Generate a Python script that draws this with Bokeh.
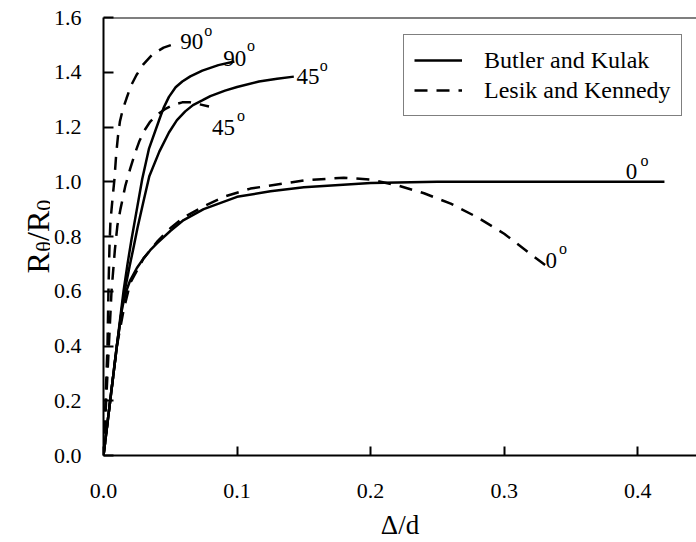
import math
from bokeh.plotting import figure
from bokeh.layouts import row
from bokeh.models import (Range1d, FixedTicker, PrintfTickFormatter, Span,
                          Legend, LegendItem)
from bokeh.core.properties import value
from bokeh.embed import file_html
from bokeh.resources import INLINE

FONT = "Liberation Serif"

# ---------------- data ----------------
x_ticks = [0.0, 0.1, 0.2, 0.3, 0.4]
y_ticks = [0.0, 0.2, 0.4, 0.6, 0.8, 1.0, 1.2, 1.4, 1.6]

# Butler and Kulak (solid)
bk0_x = [0, 0.005, 0.01, 0.014, 0.017, 0.02, 0.025, 0.03, 0.035, 0.04, 0.05, 0.06, 0.075, 0.1, 0.125, 0.15, 0.2, 0.25, 0.3, 0.35, 0.42]
bk0_y = [0, 0.2, 0.4, 0.54, 0.60, 0.64, 0.685, 0.72, 0.75, 0.775, 0.82, 0.86, 0.90, 0.945, 0.965, 0.98, 0.995, 1.0, 1.0, 1.0, 1.0]
bk45_x = [0, 0.005, 0.01, 0.015, 0.0195, 0.0225, 0.0254, 0.03, 0.0343, 0.0418, 0.049, 0.055, 0.0612, 0.067, 0.0739, 0.08, 0.091, 0.1, 0.1164, 0.13, 0.1425]
bk45_y = [0, 0.2, 0.4, 0.58, 0.69, 0.76, 0.83, 0.93, 1.02, 1.11, 1.18, 1.225, 1.257, 1.28, 1.297, 1.313, 1.333, 1.346, 1.366, 1.376, 1.384]
bk90_x = [0, 0.005, 0.01, 0.015, 0.018, 0.021, 0.025, 0.029, 0.034, 0.042, 0.045, 0.049, 0.054, 0.059, 0.065, 0.074, 0.086, 0.098]
bk90_y = [0, 0.2, 0.4, 0.6, 0.7, 0.79, 0.9, 1.01, 1.12, 1.23, 1.27, 1.31, 1.345, 1.366, 1.385, 1.406, 1.426, 1.439]

# Lesik and Kennedy (dashed)
lk0_x = [0, 0.005, 0.01, 0.015, 0.02, 0.03, 0.04, 0.05, 0.06, 0.075, 0.09, 0.11, 0.15, 0.18, 0.2, 0.22, 0.24, 0.26, 0.28, 0.30, 0.32, 0.335]
lk0_y = [0, 0.2, 0.4, 0.53, 0.63, 0.72, 0.78, 0.83, 0.87, 0.91, 0.945, 0.975, 1.005, 1.015, 1.008, 0.987, 0.958, 0.92, 0.87, 0.81, 0.735, 0.68]
lk45_x = [0, 0.002, 0.004, 0.006, 0.0085, 0.0104, 0.0127, 0.0164, 0.020, 0.024, 0.027, 0.031, 0.035, 0.04, 0.046, 0.052, 0.059, 0.065, 0.07, 0.079]
lk45_y = [0, 0.2, 0.4, 0.6, 0.75, 0.84, 0.90, 0.986, 1.048, 1.11, 1.15, 1.19, 1.22, 1.245, 1.265, 1.28, 1.29, 1.29, 1.285, 1.275]
lk90_x = [0, 0.0015, 0.003, 0.0037, 0.0045, 0.0052, 0.0068, 0.0082, 0.0095, 0.0108, 0.0123, 0.0145, 0.0172, 0.0205, 0.0247, 0.03, 0.0366, 0.045, 0.0537]
lk90_y = [0, 0.2, 0.4, 0.6, 0.767, 0.855, 0.94, 1.01, 1.1, 1.165, 1.22, 1.265, 1.304, 1.35, 1.39, 1.43, 1.465, 1.49, 1.505]

series_labels = ["Butler and Kulak", "Lesik and Kennedy"]
angle_text = ["90", "90", "45", "45", "0", "0"]
y_label_parts = ["R", "θ", "/", "R", "0"]

# ---------------- main figure ----------------
LABEL_W = 50
p = figure(width=696 - LABEL_W, height=542, output_backend="svg", toolbar_location=None,
           x_range=Range1d(0, 0.444), y_range=Range1d(0, 1.6),
           min_border_left=101 - LABEL_W, min_border_right=0, min_border_top=17,
           min_border_bottom=85)
p.grid.visible = False
p.outline_line_color = None
p.background_fill_color = "white"
p.border_fill_color = "white"

for ax in (p.xaxis[0], p.yaxis[0]):
    ax.axis_line_width = 2
    ax.axis_line_color = "black"
    ax.major_tick_line_width = 2
    ax.major_tick_line_color = "black"
    ax.major_tick_out = 0
    ax.minor_tick_line_color = None
    ax.major_label_text_font = FONT
    ax.major_label_text_font_size = "22px"
    ax.major_label_text_color = "black"
    ax.formatter = PrintfTickFormatter(format="%.1f")

p.xaxis.ticker = FixedTicker(ticks=x_ticks)
p.yaxis.ticker = FixedTicker(ticks=y_ticks)
p.xaxis.major_tick_in = 9
p.yaxis.major_tick_in = 10
p.xaxis.major_label_standoff = 28
p.yaxis.major_label_standoff = 22
p.xaxis.axis_label = "Δ/d"
p.xaxis.axis_label_text_font = FONT
p.xaxis.axis_label_text_font_size = "27px"
p.xaxis.axis_label_text_font_style = "normal"
p.xaxis.axis_label_text_color = "black"
p.xaxis.axis_label_standoff = 9

p.add_layout(Span(location=1.6, dimension="width", line_color="black", line_width=2))

# ---------------- curves ----------------
LW = 2.5
DASH = "13 9"
r_bk0 = p.line(bk0_x, bk0_y, line_color="black", line_width=LW)
p.line(bk45_x, bk45_y, line_color="black", line_width=LW)
p.line(bk90_x, bk90_y, line_color="black", line_width=LW)
r_lk0 = p.line(lk0_x, lk0_y, line_color="black", line_width=LW, line_dash=DASH)
p.line(lk45_x, lk45_y, line_color="black", line_width=LW, line_dash=DASH)
p.line(lk90_x, lk90_y, line_color="black", line_width=LW, line_dash=DASH)

# ---------------- angle labels ----------------
num_x = [0.0575, 0.0896, 0.1445, 0.0813, 0.391, 0.331]
num_y = [1.512, 1.450, 1.384, 1.198, 1.037, 0.712]
deg_x = [0.0754, 0.1075, 0.162, 0.100, 0.402, 0.341]
deg_y = [1.553, 1.498, 1.425, 1.242, 1.078, 0.756]
p.text(x=num_x, y=num_y, text=angle_text, text_font=value(FONT), text_font_size="23px",
       text_color="black", text_align="left", text_baseline="alphabetic")
p.text(x=deg_x, y=deg_y, text=["o"] * len(deg_x), text_font=value(FONT), text_font_size="16px",
       text_color="black", text_align="left", text_baseline="alphabetic")

# ---------------- legend ----------------
legend = Legend(items=[LegendItem(label=series_labels[0], renderers=[r_bk0]),
                       LegendItem(label=series_labels[1], renderers=[r_lk0])],
                location=(300, 339), margin=0, padding=10, spacing=0,
                glyph_width=48, glyph_height=26, label_height=30, label_standoff=22,
                label_text_font=FONT, label_text_font_size="24px", label_text_color="black",
                border_line_color="black", border_line_width=1.5,
                background_fill_color="white", background_fill_alpha=1.0)
p.add_layout(legend)

# ---------------- y axis title panel: R_theta / R_0 ----------------
# its frame is aligned with the main frame by the row layout, so it shares the y range
q = figure(width=LABEL_W, height=542, output_backend="svg", toolbar_location=None,
           x_range=Range1d(0, LABEL_W), y_range=p.y_range,
           x_axis_location=None, y_axis_location=None, title=None,
           min_border=0, min_border_left=0, min_border_right=0,
           min_border_top=17, min_border_bottom=85)
q.grid.visible = False
q.outline_line_color = None
q.background_fill_color = "white"
q.border_fill_color = "white"
# each piece is anchored at its upper end (text_align right, rotated 90 degrees)
part_x = [37, 43, 37, 37, 43]
part_y = [0.743, 0.783, 0.816, 0.894, 0.934]
part_size = ["32px", "22px", "32px", "32px", "22px"]
for t, xx, yy, fs in zip(y_label_parts, part_x, part_y, part_size):
    q.text(x=[xx], y=[yy], text=[t], angle=math.pi / 2, text_font=value(FONT),
           text_font_size=fs, text_color="black", text_align="right",
           text_baseline="alphabetic")

layout = row(q, p, spacing=0)
open("out.html", "w").write(file_html(layout, INLINE))
